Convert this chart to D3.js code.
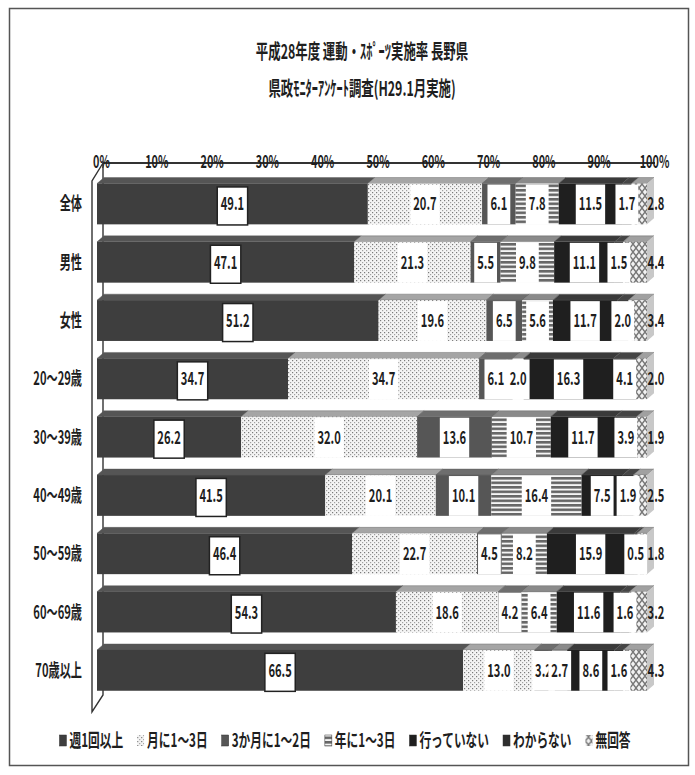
<!DOCTYPE html>
<html>
<head>
<meta charset="utf-8">
<script src="https://cdn.jsdelivr.net/npm/d3@7"></script>
<style>
  html, body { margin: 0; padding: 0; background: #fff; }
  svg text { font-family: "Noto Sans CJK JP", "Noto Sans", sans-serif; fill: #1e1e1e; }
</style>
</head>
<body>
<svg id="chart" width="695" height="775"></svg>
<script>
// Categories (rows of the chart)
const categories = ["全体", "男性", "女性", "20～29歳", "30～39歳", "40～49歳", "50～59歳", "60～69歳", "70歳以上"];
// Response categories (stack order, left to right)
const seriesNames = ["週1回以上", "月に1～3日", "3か月に1～2日", "年に1～3日", "行っていない", "わからない", "無回答"];
// Percentages per response category, one value per row
const weekly    = [49.1, 47.1, 51.2, 34.7, 26.2, 41.5, 46.4, 54.3, 66.5];
const monthly   = [20.7, 21.3, 19.6, 34.7, 32.0, 20.1, 22.7, 18.6, 13.0];
const quarterly = [6.1, 5.5, 6.5, 6.1, 13.6, 10.1, 4.5, 4.2, 3.2];
const yearly    = [7.8, 9.8, 5.6, 2.0, 10.7, 16.4, 8.2, 6.4, 2.7];
const notAtAll  = [11.5, 11.1, 11.7, 16.3, 11.7, 7.5, 15.9, 11.6, 8.6];
const unknown   = [1.7, 1.5, 2.0, 4.1, 3.9, 1.9, 0.5, 1.6, 1.6];
const noAnswer  = [2.8, 4.4, 3.4, 2.0, 1.9, 2.5, 1.8, 3.2, 4.3];
// Percent axis
const tickValues = [0, 0.1, 0.2, 0.3, 0.4, 0.5, 0.6, 0.7, 0.8, 0.9, 1];
const tickLabels = ["0%", "10%", "20%", "30%", "40%", "50%", "60%", "70%", "80%", "90%", "100%"];
const titleLines = ["平成28年度 運動・ｽﾎﾟｰﾂ実施率 長野県", "県政ﾓﾆﾀｰｱﾝｹｰﾄ調査(H29.1月実施)"];

const seriesValues = [weekly, monthly, quarterly, yearly, notAtAll, unknown, noAnswer];
const table = categories.map((c, i) => {
  const row = { category: c };
  seriesNames.forEach((s, k) => { row[s] = seriesValues[k][i]; });
  return row;
});

const svg = d3.select("#chart");
const sx = 0.62;                       // horizontal squeeze of the condensed lettering
const squeeze = `scale(${sx},1)`;

// fills for each response category
const defs = svg.append("defs");
const dots = defs.append("pattern").attr("id", "p-dots").attr("patternUnits", "userSpaceOnUse").attr("width", 4).attr("height", 4);
dots.append("rect").attr("width", 4).attr("height", 4).attr("fill", "#f4f4f4");
dots.append("rect").attr("x", 0).attr("y", 0).attr("width", 1.2).attr("height", 1.2).attr("fill", "#7a7a7a");
dots.append("rect").attr("x", 2).attr("y", 2).attr("width", 1.2).attr("height", 1.2).attr("fill", "#a0a0a0");

const stripes = defs.append("pattern").attr("id", "p-stripes").attr("patternUnits", "userSpaceOnUse").attr("width", 6).attr("height", 4.5);
stripes.append("rect").attr("width", 6).attr("height", 4.5).attr("fill", "#f5f5f5");
stripes.append("rect").attr("width", 6).attr("height", 2.6).attr("fill", "#666");

const weave = defs.append("pattern").attr("id", "p-weave").attr("patternUnits", "userSpaceOnUse").attr("width", 6).attr("height", 8);
weave.append("rect").attr("width", 6).attr("height", 8).attr("fill", "#f2f2f2");
weave.append("path").attr("d", "M0,0 L6,8 M6,0 L0,8").attr("stroke", "#777").attr("stroke-width", 1.4);

const fills = ["#3e3e3e", "url(#p-dots)", "#565656", "url(#p-stripes)", "#1f1f1f", "#2e2e2e", "url(#p-weave)"];
const topFills = ["#555", "#a5a5a5", "#6e6e6e", "#8a8a8a", "#3a3a3a", "#454545", "#a0a0a0"];

// outer frame
svg.append("rect").attr("x", 9.5).attr("y", 8.5).attr("width", 679).attr("height", 757)
  .attr("fill", "#fff").attr("stroke", "#555").attr("stroke-width", 1.5);

// title
svg.append("g").selectAll("text").data(titleLines).join("text")
  .attr("transform", (d, i) => `translate(362, ${59 + i * 37}) ${squeeze}`)
  .attr("text-anchor", "middle")
  .attr("font-size", 20).attr("font-weight", 700)
  .text(d => d);

// scales
const x = d3.scaleLinear().domain([0, 1]).range([97, 647]);
const y = d3.scaleBand().domain(categories).range([174.8, 699.5]).paddingInner(0.3).paddingOuter(0.15);
const dx = 7, dy = -6;

// 3D walls: back wall top edge and left side wall
svg.append("polygon")
  .attr("points", [[103, 163], [92, 181], [92, 712], [103, 695]].map(p => p.join(",")).join(" "))
  .attr("fill", "#fff").attr("stroke", "#333").attr("stroke-width", 1.4);
svg.append("line").attr("x1", 103).attr("x2", 655).attr("y1", 163).attr("y2", 163)
  .attr("stroke", "#333").attr("stroke-width", 2);

// percent axis drawn on the back plane
const xBack = x.copy().range([x.range()[0] + dx - 3, x.range()[1] + dx]);
const xAxis = svg.append("g").attr("transform", "translate(0,168)")
  .call(d3.axisTop(xBack).tickValues(tickValues).tickSize(0).tickPadding(0)
    .tickFormat((d, i) => tickLabels[i]));
xAxis.select(".domain").remove();
xAxis.selectAll("text").attr("font-size", 17.5).attr("font-weight", 700)
  .attr("transform", squeeze).style("font-family", null);

// category axis
const yAxis = svg.append("g").attr("transform", "translate(82,0)")
  .call(d3.axisLeft(y).tickSize(0).tickPadding(0));
yAxis.select(".domain").remove();
yAxis.selectAll("text").attr("font-size", 18).attr("font-weight", 700)
  .attr("dy", "0.36em").attr("transform", squeeze).style("font-family", null);

// normalised stack, as in a 100% stacked bar chart
const stacked = d3.stack().keys(seriesNames).offset(d3.stackOffsetExpand)(table);

const rows = svg.append("g");
stacked.forEach((layer, k) => {
  const g = rows.append("g");
  layer.forEach(seg => {
    const cat = seg.data.category;
    const x0 = x(seg[0]), x1 = x(seg[1]);
    const top = y(cat), bot = y(cat) + y.bandwidth();
    // top face
    g.append("polygon")
      .attr("points", [[x0, top], [x0 + dx, top + dy], [x1 + dx, top + dy], [x1, top]].map(p => p.join(",")).join(" "))
      .attr("fill", topFills[k]).attr("stroke", "#555").attr("stroke-width", 0.4);
    // front face
    g.append("rect").attr("x", x0).attr("y", top).attr("width", x1 - x0).attr("height", bot - top)
      .attr("fill", fills[k]);
    // right side face of the last segment
    if (k === seriesNames.length - 1) {
      g.append("polygon")
        .attr("points", [[x1, top], [x1 + dx, top + dy], [x1 + dx, bot + dy], [x1, bot]].map(p => p.join(",")).join(" "))
        .attr("fill", "#c8c8c8");
    }
  });
});

// value labels
const labels = svg.append("g");
stacked.forEach((layer, k) => {
  layer.forEach(seg => {
    const cat = seg.data.category;
    const v = seg.data[seriesNames[k]];
    const cx = k === seriesNames.length - 1 ? x(1) + 9 : (x(seg[0]) + x(seg[1])) / 2;
    const cy = y(cat) + y.bandwidth() / 2;
    const lg = labels.append("g").attr("transform", `translate(${cx},${cy})`);
    const t = lg.append("text").attr("text-anchor", "middle").attr("dy", "0.36em")
      .attr("font-size", 18).attr("font-weight", 700)
      .attr("transform", squeeze).text(v.toFixed(1));
    const w = t.node().getComputedTextLength() * sx;
    if (k === 0) {
      lg.insert("rect", "text").attr("x", -w / 2 - 3.5).attr("y", -17).attr("width", w + 7).attr("height", 38)
        .attr("fill", "#fff").attr("stroke", "#222").attr("stroke-width", 1.5);
    } else if (k < seriesNames.length - 1) {
      lg.insert("rect", "text").attr("x", -w / 2 - 3).attr("y", -y.bandwidth() / 2 + 1).attr("width", w + 6)
        .attr("height", y.bandwidth() - 1).attr("fill", "#fff");
    }
  });
});

// legend
const legend = svg.append("g");
let lx = 0;
seriesNames.forEach((s, k) => {
  const item = legend.append("g").attr("transform", `translate(${lx},0)`);
  item.append("rect").attr("x", 0).attr("y", -6).attr("width", 7).attr("height", 11)
    .attr("fill", fills[k]).attr("stroke", k === 1 || k === 6 ? "none" : "#333").attr("stroke-width", 0.5);
  const t = item.append("text").attr("transform", `translate(10,0) scale(0.65,1)`)
    .attr("dy", "0.36em").attr("font-size", 18).attr("font-weight", 700).text(s);
  lx += 10 + t.node().getComputedTextLength() * 0.65 + 14;
});
lx -= 14;
legend.attr("transform", `translate(${345 - lx / 2},741)`);
</script>
</body>
</html>
